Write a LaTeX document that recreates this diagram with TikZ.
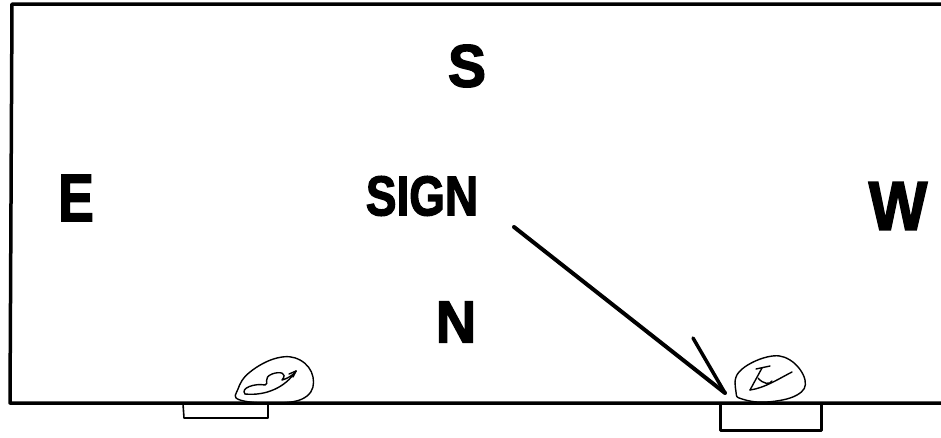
\documentclass[tikz,border=0pt]{standalone}
\usepackage{fontspec}
\setmainfont{Liberation Sans}
\newfontfamily\heavyfont[FakeBold=2.5]{Liberation Sans Bold}
\begin{document}
\begin{tikzpicture}[x=1pt,y=-1pt,
  lbl/.style={inner sep=0pt},
  frame/.style={line width=3.5pt,line cap=round,line join=round},
  thin/.style={line width=1.6pt,line cap=round,line join=round},
  pen/.style={line width=1.4pt,line cap=round,line join=round}]
\useasboundingbox (0,0) rectangle (941,437);
% frame
\draw[frame] (941,4) -- (12,4) -- (10,403) -- (941,403);
% labels
\node[lbl,font=\heavyfont\fontsize{60}{60}\selectfont,xscale=0.95] (s) at (467,66) {S};
\node[lbl,font=\heavyfont\fontsize{56}{56}\selectfont,xscale=0.82] (sign) at (422,196) {SIGN};
\node[lbl,font=\heavyfont\fontsize{67}{67}\selectfont,xscale=0.8] (e) at (76,198) {E};
\node[lbl,font=\heavyfont\fontsize{69}{69}\selectfont,xscale=0.9] (w) at (898,206) {W};
\node[lbl,font=\heavyfont\fontsize{59}{59}\selectfont,xscale=0.95] (n) at (456,322) {N};
% arrow
\coordinate (astart) at (514,227);
\coordinate (aend) at (725,393);
\coordinate (barb) at (693,338);
\draw[line width=4pt,line cap=round] (astart) -- (aend);
\draw[line width=3.5pt,line cap=round] (barb) -- (aend);
% small rectangles under bottom line
\draw[thin] (183,404) -- (184,418) -- (268,418) -- (268,404);
\draw[line width=3pt,line join=round] (720,404) -- (720,430) -- (821,430) -- (821,404);
% left egg
\draw[pen] plot[smooth cycle,tension=0.7] coordinates {(240,400) (238,389) (250,372) (277,358) (300,360) (313,377) (307,396) (280,403)};
\draw[pen] (245,394) .. controls (240,388) and (255,383) .. (265,385)
  .. controls (270,384) and (262,378) .. (272,374)
  .. controls (280,371) and (288,373) .. (282,380)
  .. controls (290,378) and (296,372) .. (296,371);
\draw[pen] (245,394) .. controls (265,396) and (285,388) .. (296,371);
\draw[pen] (289,374) -- (296,371) -- (293,377);
% right egg
\draw[pen] plot[smooth cycle,tension=0.7] coordinates {(736,392) (739,372) (767,357) (790,360) (805,380) (797,395) (767,402) (742,399)};
\draw[pen] (750,390) -- (762,368);
\draw[pen] (756,369) -- (770,366);
\draw[pen] (750,390) .. controls (765,388) and (780,378) .. (792,372);
\draw[pen] (758,378) .. controls (763,384) and (770,385) .. (772,381);
\end{tikzpicture}
\end{document}
